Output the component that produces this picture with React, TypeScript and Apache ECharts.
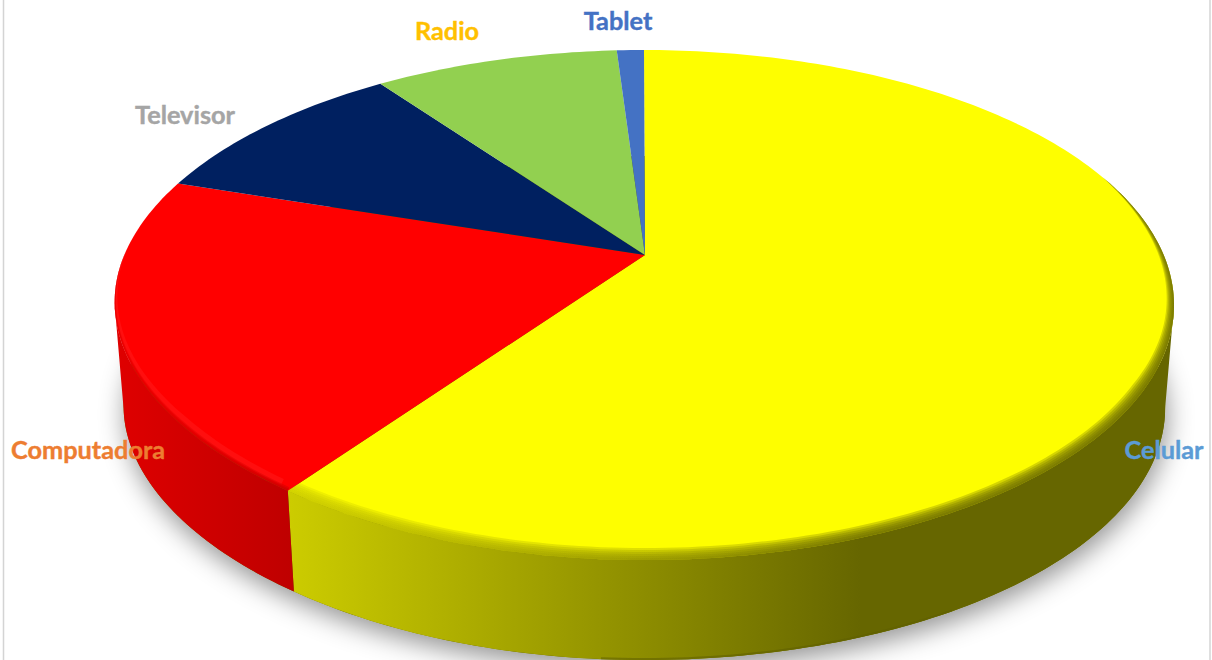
import React, { useEffect, useRef } from "react";
import * as echarts from "echarts";

const categories = ["Celular", "Computadora", "Televisor", "Radio", "Tablet"];
const shares = [60, 20, 10, 9, 1];

const topColors = ["#FEFE00", "#FF0000", "#002060", "#92D050", "#4472C4"];
const labelColors = ["#5B9BD5", "#ED7D31", "#A5A5A5", "#FFC000", "#4472C4"];
const labelCentres = [[1164, 449], [88, 449], [185, 114], [447, 30], [618, 20]];

const W = 1212;
const H = 660;
const K = -0.1962;
const TOP = { x0: 644, y0: 255, a: 519.7, b: 245.2 };
const BOTTOM = { x0: 644, y0: 358.6, a: 511, b: 242.3 };
const RIM = { cx: 644, cy: 305, rx: 530, ry: 255 };
const SKEW = 18;
const SIDE_START = 101.3;
const SIDE_END = 258.7;

const total = shares.reduce((s, v) => s + v, 0);
const starts: number[] = [];
shares.reduce((acc, v, i) => {
  starts[i] = (acc / total) * 360;
  return acc + v;
}, 0);

function project(deg: number, f: typeof TOP): number[] {
  const a = (deg * Math.PI) / 180;
  const u = Math.sin(a);
  const v = -Math.cos(a);
  const w = 1 + K * v;
  const lean = u < 0 && v > 0 ? -SKEW * u * v * v : 0;
  return [f.x0 + (f.a * u) / w + lean, f.y0 + (f.b * v) / w];
}

function arc(from: number, to: number, f: typeof TOP): number[][] {
  const n = Math.max(2, Math.ceil(Math.abs(to - from)));
  const out: number[][] = [];
  for (let i = 0; i <= n; i++) out.push(project(from + ((to - from) * i) / n, f));
  return out;
}

function inset(p: number[], d: number): number[] {
  const nx = (p[0] - RIM.cx) / (RIM.rx * RIM.rx);
  const ny = (p[1] - RIM.cy) / (RIM.ry * RIM.ry);
  const l = Math.hypot(nx, ny) || 1;
  return [p[0] - (d * nx) / l, p[1] - (d * ny) / l];
}

function band(from: number, to: number, dOuter: number, dInner: number, taper: (deg: number) => number) {
  const n = Math.ceil(Math.abs(to - from));
  const outer: number[][] = [];
  const inner: number[][] = [];
  for (let i = 0; i <= n; i++) {
    const deg = from + ((to - from) * i) / n;
    const p = project(deg, TOP);
    const t = taper(deg);
    outer.push(inset(p, dOuter * t));
    inner.push(inset(p, dInner * t));
  }
  return outer.concat(inner.reverse());
}

const yellowSide = () =>
  new echarts.graphic.LinearGradient(290, 0, 1175, 0, [
    { offset: 0, color: "#CCCC00" },
    { offset: 0.645, color: "#666600" },
    { offset: 1, color: "#666600" },
  ], true);
const redSide = () =>
  new echarts.graphic.LinearGradient(120, 0, 297, 0, [
    { offset: 0, color: "#DE0000" },
    { offset: 1, color: "#BE0000" },
  ], true);

function renderItem(params: any, api: any) {
  const i = params.dataIndex;
  const from = starts[i];
  const to = from + (api.value(0) / total) * 360;
  const children: any[] = [];

  if (i === 0) {
    children.push({
      type: "polygon",
      shape: { points: arc(0, 360, BOTTOM) },
      style: {
        fill: "#666600",
        shadowBlur: 26,
        shadowColor: "rgba(0,0,0,0.42)",
        shadowOffsetX: 2,
        shadowOffsetY: 9,
      },
    });
  }

  const a0 = Math.max(from, SIDE_START);
  const a1 = Math.min(to, SIDE_END);
  if (a1 > a0) {
    const fill = i === 0 ? yellowSide() : redSide();
    children.push({
      type: "polygon",
      shape: { points: arc(a0, a1, TOP).concat(arc(a1, a0, BOTTOM)) },
      style: { fill },
    });
  }

  if (i === 0) {
    const foot = arc(150, 184, BOTTOM);
    children.push({
      type: "polyline",
      shape: { points: foot.map((p) => [p[0], p[1] - 1]) },
      style: { fill: "none", stroke: "#5F5F00", lineWidth: 2, opacity: 0.55 },
    });
  }

  children.push({
    type: "polygon",
    shape: { points: [[645, TOP.y0], ...arc(from, to, TOP)] },
    style: { fill: topColors[i] },
  });

  if (i === 0) {
    const taper = (d: number) => Math.min(1, Math.max(0, (d - 70) / 50));
    [12, 10, 8, 6, 4, 2].forEach((d) => {
      children.push({
        type: "polygon",
        shape: { points: band(70, to, 0, d, taper) },
        style: { fill: yellowSide(), opacity: 0.27 },
      });
    });
  }
  if (i === 1) {
    const taper = (d: number) => Math.min(1, Math.max(0, (272 - d) / 40));
    children.push({
      type: "polygon",
      shape: { points: band(from + 1, 272, 3, 9, taper) },
      style: { fill: "#FF3030", opacity: 0.3 },
    });
    [4, 2.5, 1.2].forEach((d) => {
      children.push({
        type: "polygon",
        shape: { points: band(from, 272, 0, d, taper) },
        style: { fill: redSide(), opacity: 0.35 },
      });
    });
  }
  return { type: "group", children };
}

export default function App() {
  const ref = useRef<HTMLDivElement>(null);
  useEffect(() => {
    const chart = echarts.init(ref.current!, undefined, { renderer: "svg" });
    chart.setOption({
      animation: false,
      backgroundColor: "#FFFFFF",
      series: [
        {
          type: "custom",
          coordinateSystem: "none",
          renderItem,
          clip: false,
          silent: true,
          data: categories.map((name, i) => ({ name, value: [shares[i]] })),
        },
      ],
      graphic: [
        ...[3.5, 1210].map((x) => ({
          type: "line",
          z: 50,
          shape: { x1: x, y1: 0, x2: x, y2: H },
          style: { stroke: "#D4D4D4", lineWidth: 1.5 },
        })),
        ...categories.map((name, i) => ({
          type: "text",
          z: 100,
          x: labelCentres[i][0],
          y: labelCentres[i][1],
          style: {
            text: name,
            fill: labelColors[i],
            stroke: labelColors[i],
            lineWidth: 0.4,
            font: "bold 25.3px Lato",
            align: "center",
            verticalAlign: "middle",
          },
        })),
      ],
    });
    return () => chart.dispose();
  }, []);
  return (
    <div
      ref={ref}
      style={{ position: "fixed", left: 0, top: 0, width: W, height: H, overflow: "hidden" }}
    />
  );
}
